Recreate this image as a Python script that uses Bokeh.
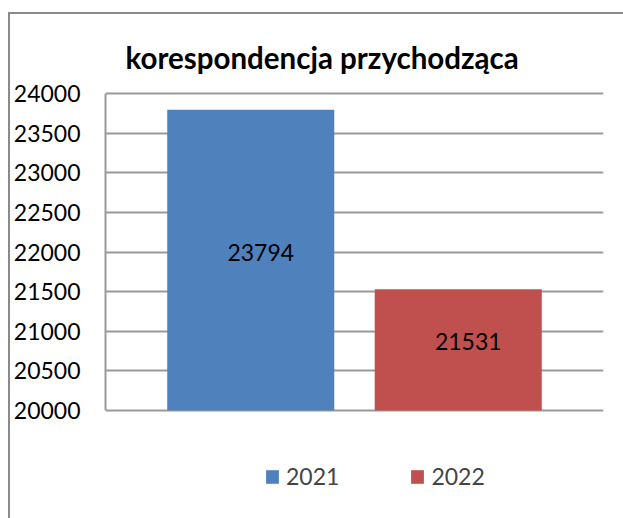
from bokeh.plotting import figure
from bokeh.models import (ColumnDataSource, FactorRange, Range1d, FixedTicker,
                          Legend, LegendItem, LabelSet, Label)
from bokeh.core.properties import value
from bokeh.embed import file_html
from bokeh.resources import INLINE

title_text = "korespondencja przychodząca"
years = ["2021", "2022"]
counts = [23794, 21531]
colors = ["#4F81BD", "#C0504D"]
y_ticks = [20000, 20500, 21000, 21500, 22000, 22500, 23000, 23500, 24000]

FONT = "Lato"

# layout in pixels: value axis spans 317 px; 79 px above it hold the title,
# 108 px below it hold the legend
AXIS_PX, TOP_PX, BELOW_PX, FRAME_W = 317, 79, 108, 498
X_PAD = 0.2
y_lo, y_hi = y_ticks[0], y_ticks[-1]
upp = (y_hi - y_lo) / AXIS_PX           # data units per pixel (y)
y_start = y_lo - BELOW_PX * upp
y_end = y_hi + TOP_PX * upp
xupp = (len(years) + 2 * X_PAD) / FRAME_W  # synthetic x units per pixel

src = ColumnDataSource(dict(
    year=years, count=counts, color=colors,
    base=[y_lo] * len(years),
    mid=[(y_lo + c) / 2 for c in counts],
    label=[str(c) for c in counts],
))

p = figure(
    width=613, height=504,
    x_range=FactorRange(factors=years, range_padding=X_PAD,
                        range_padding_units="absolute", factor_padding=0.0),
    y_range=Range1d(y_start, y_end),
    output_backend="svg", toolbar_location=None,
    frame_width=FRAME_W, frame_height=TOP_PX + AXIS_PX + BELOW_PX,
    min_border_left=95, min_border_right=20, min_border_top=0,
    min_border_bottom=0,
)
p.styles = {"margin-left": "8px", "margin-top": "12px",
            "border-left": "2px solid #8a8a8a", "border-top": "2px solid #8a8a8a"}

title = Label(x=-X_PAD + 20 * xupp, y=y_hi + 36 * upp, text=title_text,
              text_font=FONT, text_font_size="29.5px", text_font_style="bold",
              text_color="black", text_align="left", text_baseline="alphabetic")
p.add_layout(title)

r = p.vbar(x="year", top="count", bottom="base", width=0.805, color="color",
           source=src, line_color=None)

labels = LabelSet(x="year", y="mid", text="label", source=src,
                  text_font=value(FONT), text_font_size="23px",
                  text_align="center", text_baseline="middle",
                  text_color="black", x_offset=10, y_offset=8)
p.add_layout(labels)

p.xaxis.visible = False
p.yaxis.ticker = FixedTicker(ticks=y_ticks)
p.yaxis.bounds = (y_lo, y_hi)
p.yaxis.major_label_text_font = FONT
p.yaxis.major_label_text_font_size = "23px"
p.yaxis.major_label_text_color = "black"
p.yaxis.major_label_standoff = 25
p.yaxis.major_tick_out = 0
p.yaxis.major_tick_in = 0
p.yaxis.minor_tick_out = 0
p.yaxis.minor_tick_in = 0
p.yaxis.axis_line_color = "#9a9a9a"
p.yaxis.axis_line_width = 2

p.xgrid.grid_line_color = None
p.ygrid.grid_line_color = "#9a9a9a"
p.ygrid.grid_line_width = 2
p.ygrid.bounds = (y_lo, y_hi)
p.outline_line_color = None

items = [LegendItem(label=y, renderers=[r], index=i) for i, y in enumerate(years)]
legend = Legend(items=items, orientation="horizontal", location=(159, 28),
                label_text_font=FONT, label_text_font_size="23px",
                glyph_width=16, glyph_height=17, label_standoff=6,
                spacing=70, border_line_color=None, background_fill_alpha=0,
                padding=0, margin=0)
p.add_layout(legend, "center")

open("out.html", "w").write(file_html(p, INLINE))
